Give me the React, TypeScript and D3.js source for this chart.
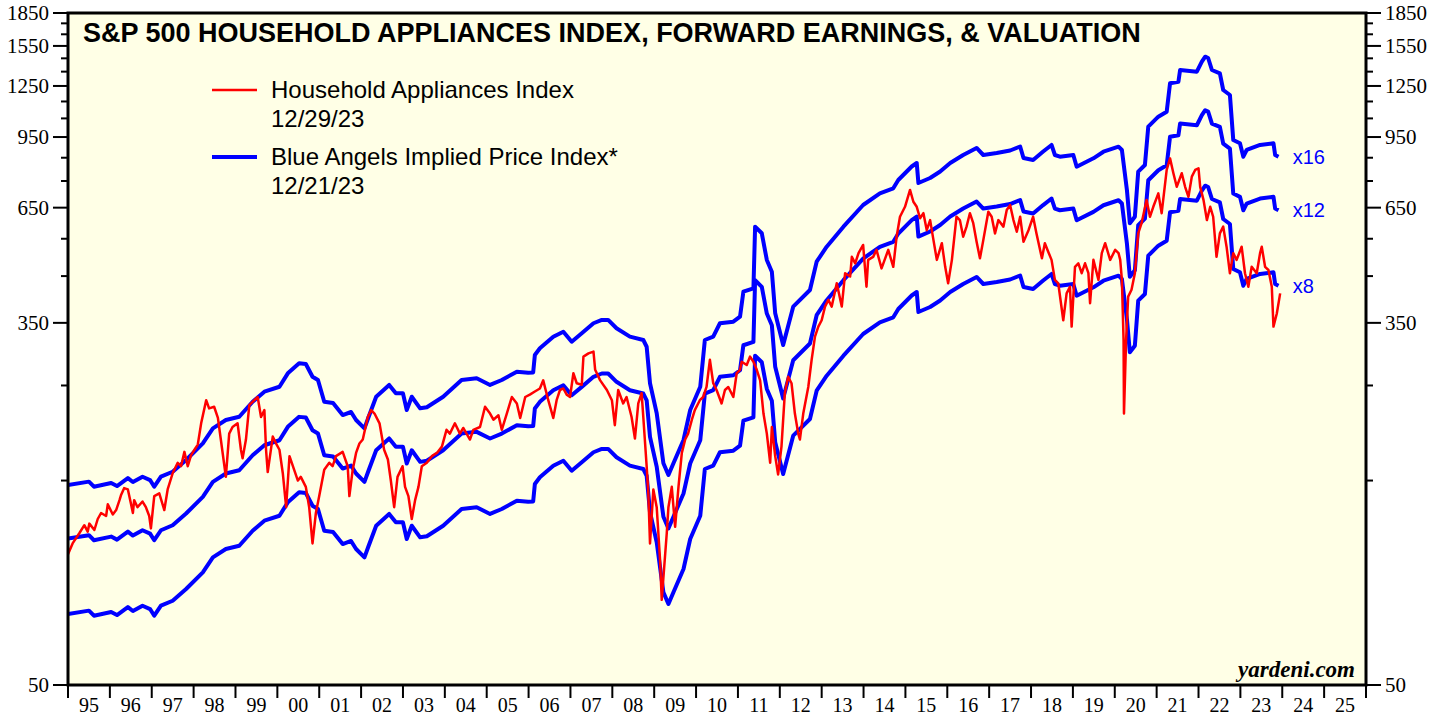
import React, { useRef, useEffect } from 'react';
import * as d3 from 'd3';

const title = 'S&P 500 HOUSEHOLD APPLIANCES INDEX, FORWARD EARNINGS, & VALUATION';
const yearLabels = ['95', '96', '97', '98', '99', '00', '01', '02', '03', '04', '05', '06', '07', '08', '09', '10',
  '11', '12', '13', '14', '15', '16', '17', '18', '19', '20', '21', '22', '23', '24', '25'];
const yMajorTicks = [50, 350, 650, 950, 1250, 1550, 1850];
const yMinorTicks = [150, 250, 450, 550, 750, 850, 1050, 1150, 1350, 1450, 1650, 1750];
const multiples = [8, 12, 16];

// forward earnings (decimal year, eps); blue lines = eps * multiple
const fwdEarnings: [number, number][] = [
  [1995.00, 9.15], [1995.50, 9.32], [1995.62, 9.07], [1996.03, 9.25], [1996.17, 9.10], [1996.43, 9.50],
  [1996.55, 9.30], [1996.78, 9.57], [1996.96, 9.40], [1997.06, 9.07], [1997.22, 9.57], [1997.50, 9.83],
  [1997.82, 10.47], [1998.22, 11.45], [1998.46, 12.41], [1998.77, 12.98], [1999.09, 13.21], [1999.41, 14.32],
  [1999.69, 15.11], [2000.05, 15.52], [2000.25, 16.68], [2000.52, 17.60], [2000.68, 17.54], [2000.84, 16.38],
  [2000.97, 16.09], [2001.12, 14.32], [2001.33, 14.22], [2001.56, 13.33], [2001.76, 13.55], [2001.88, 12.98],
  [2002.08, 12.41], [2002.17, 13.12], [2002.36, 14.71], [2002.67, 15.67], [2002.83, 14.98], [2003.00, 14.98],
  [2003.09, 13.70], [2003.21, 14.71], [2003.41, 13.82], [2003.57, 13.90], [2003.96, 14.71], [2004.40, 16.09],
  [2004.76, 16.24], [2005.08, 15.67], [2005.36, 16.09], [2005.72, 16.83], [2005.99, 16.73], [2006.11, 16.76],
  [2006.15, 18.41], [2006.27, 19.08], [2006.59, 20.31], [2006.83, 20.86], [2007.03, 19.77], [2007.27, 20.68],
  [2007.55, 21.83], [2007.75, 22.22], [2007.90, 22.22], [2008.10, 21.25], [2008.42, 20.31], [2008.74, 19.95],
  [2008.82, 19.24], [2008.90, 15.81], [2009.06, 13.46], [2009.22, 10.29], [2009.34, 9.66], [2009.46, 10.29],
  [2009.70, 11.66], [2009.86, 13.70], [2010.10, 15.52], [2010.21, 19.95], [2010.41, 20.31], [2010.57, 21.83],
  [2010.89, 22.01], [2011.05, 22.61], [2011.13, 25.86], [2011.37, 26.34], [2011.41, 36.68], [2011.57, 35.40],
  [2011.69, 30.67], [2011.81, 28.80], [2011.89, 23.03], [2012.08, 19.42], [2012.32, 23.86], [2012.72, 26.10],
  [2012.88, 30.39], [2013.12, 32.94], [2013.52, 36.68], [2013.99, 41.21], [2014.39, 43.88], [2014.71, 45.08],
  [2014.83, 47.13], [2015.15, 50.68], [2015.27, 51.64], [2015.31, 46.38], [2015.59, 47.65], [2015.83, 49.34],
  [2016.07, 51.64], [2016.38, 53.91], [2016.70, 55.98], [2016.86, 53.91], [2017.18, 54.49], [2017.50, 55.23],
  [2017.74, 56.43], [2017.82, 53.05], [2018.05, 52.48], [2018.29, 54.93], [2018.49, 56.89], [2018.57, 53.91],
  [2018.69, 53.42], [2019.01, 53.91], [2019.09, 50.63], [2019.49, 52.96], [2019.73, 54.87], [2020.09, 56.37],
  [2020.17, 55.38], [2020.29, 44.67], [2020.36, 37.35], [2020.48, 38.70], [2020.56, 49.29], [2020.72, 51.09],
  [2020.80, 62.77], [2021.04, 66.23], [2021.24, 68.04], [2021.32, 79.26], [2021.52, 79.94], [2021.56, 85.12],
  [2021.96, 84.35], [2022.08, 89.01], [2022.16, 91.43], [2022.23, 90.79], [2022.32, 85.12], [2022.51, 83.63],
  [2022.59, 76.45], [2022.75, 74.42], [2022.83, 58.44], [2022.99, 57.41], [2023.07, 53.42], [2023.15, 55.38],
  [2023.47, 56.89], [2023.79, 57.41], [2023.83, 53.91], [2023.91, 53.42],
];

// household appliances index (decimal year, level)
const applianceIndex: [number, number][] = [
  [1995.00, 101], [1995.11, 107], [1995.27, 113], [1995.39, 118], [1995.47, 114], [1995.51, 119], [1995.63, 115],
  [1995.71, 122], [1995.79, 126], [1995.91, 124], [1995.95, 132], [1996.07, 125], [1996.15, 128], [1996.23, 135],
  [1996.27, 139], [1996.34, 144], [1996.43, 143], [1996.50, 133], [1996.55, 126], [1996.58, 135], [1996.66, 130],
  [1996.78, 134], [1996.86, 130], [1996.94, 124], [1996.98, 116], [1997.06, 138], [1997.18, 140], [1997.30, 128],
  [1997.38, 143], [1997.50, 156], [1997.62, 165], [1997.70, 162], [1997.78, 175], [1997.86, 162], [1997.94, 172],
  [1998.02, 177], [1998.10, 182], [1998.18, 204], [1998.30, 231], [1998.37, 221], [1998.49, 223], [1998.58, 210],
  [1998.65, 187], [1998.77, 153], [1998.85, 193], [1998.93, 200], [1999.05, 204], [1999.13, 177], [1999.17, 169],
  [1999.25, 187], [1999.33, 225], [1999.45, 231], [1999.53, 235], [1999.61, 211], [1999.69, 219], [1999.73, 177],
  [1999.77, 157], [1999.89, 190], [1999.97, 183], [2000.05, 177], [2000.13, 156], [2000.21, 130], [2000.29, 171],
  [2000.40, 159], [2000.49, 150], [2000.56, 153], [2000.68, 145], [2000.76, 130], [2000.84, 107], [2000.92, 126],
  [2001.00, 138], [2001.12, 159], [2001.24, 165], [2001.32, 162], [2001.40, 171], [2001.56, 175], [2001.68, 162],
  [2001.72, 138], [2001.80, 159], [2001.88, 174], [2001.96, 183], [2002.04, 187], [2002.16, 211], [2002.24, 219],
  [2002.32, 215], [2002.44, 204], [2002.55, 177], [2002.64, 168], [2002.71, 150], [2002.79, 130], [2002.87, 153],
  [2002.99, 162], [2003.05, 145], [2003.13, 138], [2003.21, 122], [2003.29, 135], [2003.37, 145], [2003.45, 162],
  [2003.57, 165], [2003.69, 171], [2003.81, 174], [2003.93, 180], [2004.04, 197], [2004.12, 193], [2004.24, 204],
  [2004.36, 193], [2004.44, 199], [2004.60, 187], [2004.68, 197], [2004.84, 200], [2004.96, 223], [2005.08, 215],
  [2005.16, 208], [2005.28, 213], [2005.36, 197], [2005.48, 215], [2005.60, 235], [2005.72, 227], [2005.80, 210],
  [2005.92, 235], [2006.03, 238], [2006.15, 242], [2006.27, 246], [2006.35, 257], [2006.47, 231], [2006.59, 210],
  [2006.67, 231], [2006.75, 244], [2006.83, 246], [2006.91, 238], [2006.99, 235], [2007.07, 267], [2007.15, 253],
  [2007.27, 251], [2007.31, 292], [2007.43, 297], [2007.55, 300], [2007.59, 272], [2007.71, 257], [2007.87, 244],
  [2007.99, 231], [2008.06, 202], [2008.14, 244], [2008.26, 227], [2008.34, 235], [2008.46, 211], [2008.54, 188],
  [2008.62, 227], [2008.70, 240], [2008.74, 211], [2008.82, 162], [2008.86, 140], [2008.90, 107], [2008.98, 143],
  [2009.06, 130], [2009.14, 98], [2009.18, 79], [2009.22, 89], [2009.30, 113], [2009.34, 130], [2009.42, 145],
  [2009.50, 117], [2009.58, 145], [2009.66, 174], [2009.74, 187], [2009.81, 193], [2009.90, 208], [2009.97, 219],
  [2010.09, 231], [2010.17, 235], [2010.25, 248], [2010.33, 287], [2010.41, 253], [2010.49, 244], [2010.61, 227],
  [2010.69, 244], [2010.77, 248], [2010.89, 235], [2010.97, 267], [2011.05, 272], [2011.09, 284], [2011.21, 279],
  [2011.29, 292], [2011.37, 284], [2011.45, 272], [2011.53, 257], [2011.61, 215], [2011.69, 193], [2011.77, 165],
  [2011.81, 200], [2011.89, 171], [2011.96, 155], [2012.04, 180], [2012.12, 240], [2012.20, 262], [2012.28, 253],
  [2012.36, 215], [2012.44, 193], [2012.48, 187], [2012.56, 215], [2012.68, 248], [2012.76, 287], [2012.84, 325],
  [2012.92, 343], [2013.00, 355], [2013.08, 382], [2013.16, 396], [2013.24, 382], [2013.36, 433], [2013.48, 382],
  [2013.56, 457], [2013.68, 449], [2013.72, 499], [2013.80, 482], [2013.88, 509], [2013.99, 532], [2014.07, 425],
  [2014.11, 491], [2014.23, 499], [2014.31, 518], [2014.43, 469], [2014.59, 518], [2014.71, 473], [2014.79, 556],
  [2014.87, 619], [2014.99, 653], [2015.11, 715], [2015.19, 671], [2015.27, 653], [2015.35, 614], [2015.43, 631],
  [2015.51, 576], [2015.59, 608], [2015.67, 546], [2015.75, 491], [2015.87, 537], [2015.95, 473], [2016.02, 433],
  [2016.11, 491], [2016.22, 619], [2016.30, 608], [2016.38, 556], [2016.46, 587], [2016.54, 631], [2016.62, 598],
  [2016.70, 541], [2016.78, 495], [2016.86, 546], [2016.98, 636], [2017.06, 619], [2017.14, 566], [2017.22, 608],
  [2017.34, 587], [2017.42, 642], [2017.50, 659], [2017.58, 608], [2017.66, 571], [2017.74, 619], [2017.82, 541],
  [2017.94, 576], [2018.05, 619], [2018.13, 566], [2018.26, 495], [2018.33, 537], [2018.41, 513], [2018.49, 491],
  [2018.57, 441], [2018.65, 433], [2018.77, 355], [2018.85, 410], [2018.93, 425], [2018.97, 343], [2019.05, 473],
  [2019.13, 482], [2019.21, 457], [2019.29, 482], [2019.37, 457], [2019.41, 389], [2019.49, 491], [2019.61, 441],
  [2019.69, 509], [2019.77, 537], [2019.89, 491], [2020.01, 518], [2020.09, 509], [2020.13, 491], [2020.17, 441],
  [2020.21, 319], [2020.22, 215], [2020.27, 319], [2020.32, 403], [2020.40, 418], [2020.48, 457], [2020.56, 566],
  [2020.64, 598], [2020.76, 677], [2020.84, 619], [2020.92, 653], [2021.04, 702], [2021.12, 631], [2021.24, 796],
  [2021.32, 847], [2021.40, 782], [2021.48, 727], [2021.60, 782], [2021.68, 727], [2021.76, 689], [2021.84, 768],
  [2021.92, 796], [2022.00, 803], [2022.04, 727], [2022.12, 677], [2022.20, 608], [2022.28, 653], [2022.35, 619],
  [2022.43, 499], [2022.51, 566], [2022.59, 587], [2022.67, 527], [2022.75, 457], [2022.83, 509], [2022.91, 491],
  [2023.03, 527], [2023.11, 457], [2023.19, 425], [2023.27, 473], [2023.39, 457], [2023.47, 509], [2023.51, 527],
  [2023.59, 473], [2023.67, 465], [2023.75, 425], [2023.79, 343], [2023.87, 368], [2023.95, 410],
];

const App = () => {
  const ref = useRef<HTMLDivElement>(null);

  useEffect(() => {
    const width = 1446;
    const height = 717;
    const left = 68, right = 1366, top = 13, bottom = 685;
    const sans = "Arial, 'Liberation Sans', sans-serif";
    const serif = "'Times New Roman', 'Liberation Serif', serif";

    d3.select(ref.current).selectAll('svg').remove();

    const svg = d3.select(ref.current)
      .append('svg')
      .attr('width', width)
      .attr('height', height)
      .style('display', 'block');

    const x = d3.scaleLinear().domain([1995, 2026]).range([left, right]);
    const y = d3.scaleLog().domain([50, 1850]).range([bottom, top]);

    // plot background
    svg.append('rect')
      .attr('x', left).attr('y', top)
      .attr('width', right - left).attr('height', bottom - top)
      .attr('fill', '#FFFFE6');

    svg.append('clipPath').attr('id', 'plot-clip')
      .append('rect')
      .attr('x', left).attr('y', top)
      .attr('width', right - left).attr('height', bottom - top);

    const line = d3.line<[number, number]>()
      .x(d => x(d[0]))
      .y(d => y(d[1]));

    const plot = svg.append('g').attr('clip-path', 'url(#plot-clip)');

    // blue angels: forward earnings times each multiple
    multiples.forEach(m => {
      plot.append('path')
        .datum(fwdEarnings.map(d => [d[0], d[1] * m] as [number, number]))
        .attr('d', line)
        .attr('fill', 'none')
        .attr('stroke', '#0000FF')
        .attr('stroke-width', 4)
        .attr('stroke-linejoin', 'round');
    });

    plot.append('path')
      .datum(applianceIndex)
      .attr('d', line)
      .attr('fill', 'none')
      .attr('stroke', '#FF0000')
      .attr('stroke-width', 2.5)
      .attr('stroke-linejoin', 'round');

    // multiple labels at the end of the blue lines
    const last = fwdEarnings[fwdEarnings.length - 1];
    multiples.forEach(m => {
      svg.append('text')
        .attr('x', x(2024.25))
        .attr('y', y(last[1] * m) + 7)
        .attr('font-family', sans)
        .attr('font-size', 20)
        .attr('fill', '#0000FF')
        .text(`x${m}`);
    });

    // frame
    svg.append('rect')
      .attr('x', left).attr('y', top)
      .attr('width', right - left).attr('height', bottom - top)
      .attr('fill', 'none')
      .attr('stroke', '#000')
      .attr('stroke-width', 3);

    // y axis ticks on both sides
    const tickG = svg.append('g').attr('stroke', '#000').attr('stroke-width', 2);
    yMajorTicks.forEach(v => {
      tickG.append('line').attr('x1', left - 15).attr('x2', left).attr('y1', y(v)).attr('y2', y(v));
      tickG.append('line').attr('x1', right).attr('x2', right + 15).attr('y1', y(v)).attr('y2', y(v));
    });
    yMinorTicks.forEach(v => {
      tickG.append('line').attr('x1', left - 7).attr('x2', left).attr('y1', y(v)).attr('y2', y(v));
      tickG.append('line').attr('x1', right).attr('x2', right + 7).attr('y1', y(v)).attr('y2', y(v));
    });

    yMajorTicks.forEach(v => {
      svg.append('text')
        .attr('x', left - 19).attr('y', y(v) + 7)
        .attr('text-anchor', 'end')
        .attr('font-family', serif).attr('font-size', 21)
        .text(v);
      svg.append('text')
        .attr('x', right + 19).attr('y', y(v) + 7)
        .attr('text-anchor', 'start')
        .attr('font-family', serif).attr('font-size', 21)
        .text(v);
    });

    // x axis: year ticks with labels between them
    d3.range(1995, 2027).forEach(yr => {
      tickG.append('line').attr('x1', x(yr)).attr('x2', x(yr)).attr('y1', bottom).attr('y2', bottom + 13);
    });
    yearLabels.forEach((lab, i) => {
      svg.append('text')
        .attr('x', x(1995 + i + 0.5)).attr('y', bottom + 27)
        .attr('text-anchor', 'middle')
        .attr('font-family', serif).attr('font-size', 20)
        .text(lab);
    });

    // title
    svg.append('text')
      .attr('x', 83).attr('y', 42)
      .attr('font-family', sans).attr('font-size', 27).attr('font-weight', 'bold')
      .text(title);

    // legend
    const legend = [
      { color: '#FF0000', w: 2.5, ly: 90, lines: ['Household Appliances Index', '12/29/23'] },
      { color: '#0000FF', w: 4, ly: 157, lines: ['Blue Angels Implied Price Index*', '12/21/23'] },
    ];
    legend.forEach(item => {
      svg.append('line')
        .attr('x1', 212).attr('x2', 257).attr('y1', item.ly).attr('y2', item.ly)
        .attr('stroke', item.color).attr('stroke-width', item.w);
      item.lines.forEach((t, i) => {
        svg.append('text')
          .attr('x', 271).attr('y', item.ly + 8 + i * 29)
          .attr('font-family', sans).attr('font-size', 24)
          .text(t);
      });
    });

    svg.append('text')
      .attr('x', 1355).attr('y', 677)
      .attr('text-anchor', 'end')
      .attr('font-family', serif).attr('font-size', 23)
      .attr('font-weight', 'bold').attr('font-style', 'italic')
      .text('yardeni.com');
  }, []);

  return <div ref={ref} style={{ position: 'absolute', left: 0, top: 0 }} />;
};

export default App;
